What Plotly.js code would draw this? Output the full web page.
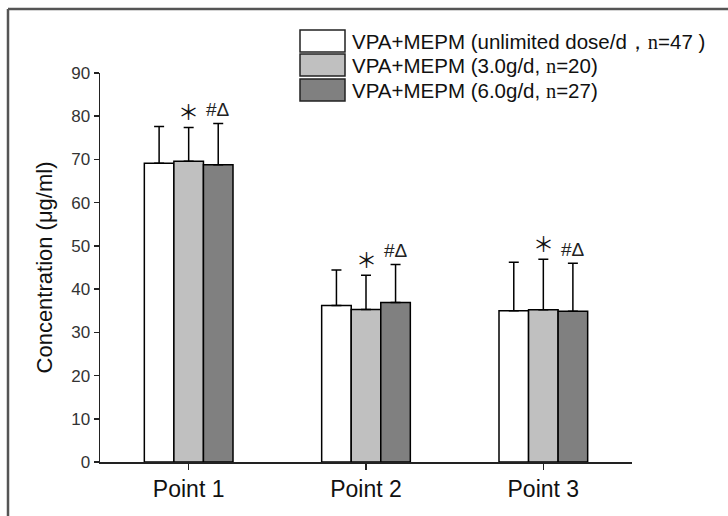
<!DOCTYPE html>
<html>
<head>
<meta charset="utf-8">
<script src="https://cdn.plot.ly/plotly-3.0.1.min.js"></script>
<style>html,body{margin:0;padding:0;background:#fff;}#chart{width:728px;height:516px;}</style>
</head>
<body>
<div id="chart"></div>
<script>
const categories = ['Point 1', 'Point 2', 'Point 3'];
const seriesNames = [
  'VPA+MEPM (unlimited dose/d，<span style="font-family:Liberation Serif">n</span>=47 )',
  'VPA+MEPM (3.0g/d, <span style="font-family:Liberation Serif">n</span>=20)',
  'VPA+MEPM (6.0g/d, <span style="font-family:Liberation Serif">n</span>=27)'
];
const unlimitedMean = [69.1, 36.2, 35.0];
const unlimitedSD = [8.5, 8.2, 11.2];
const lowMean = [69.6, 35.3, 35.2];
const lowSD = [7.8, 7.9, 11.7];
const highMean = [68.8, 36.9, 34.9];
const highSD = [9.5, 8.8, 11.1];
const colors = ['#ffffff', '#c0c0c0', '#808080'];
const lowMarks = ['＊', '＊', '＊'];
const highMarks = ['#Δ', '#Δ', '#Δ'];

const means = [unlimitedMean, lowMean, highMean];
const sds = [unlimitedSD, lowSD, highSD];

const traces = means.map((m, i) => ({
  type: 'bar',
  x: categories,
  y: m,
  name: seriesNames[i],
  marker: {color: colors[i], line: {color: '#000', width: 1.5}},
  error_y: {type: 'data', array: sds[i], arrayminus: sds[i].map(() => 0), symmetric: false, color: '#000', thickness: 1.5, width: 5},
  showlegend: false
}));

const W = 728, H = 516;
const margin = {l: 100, r: 96, t: 73, b: 54};
const pw = W - margin.l - margin.r, ph = H - margin.t - margin.b;
const px = v => (v - margin.l) / pw;
const py = v => (H - margin.b - v) / ph;

const annotations = [];
categories.forEach((c, k) => {
  annotations.push({x: k, y: lowMean[k] + lowSD[k], xref: 'x', yref: 'y', text: lowMarks[k], showarrow: false,
    yanchor: 'middle', yshift: 16, font: {family: 'Noto Sans CJK SC', size: 21, color: '#111'}});
  annotations.push({x: k + 1/6, y: highMean[k] + highSD[k], xref: 'x', yref: 'y', text: highMarks[k], showarrow: false,
    yanchor: 'middle', yshift: 14, font: {family: 'Liberation Sans, Arial', size: 19, color: '#222'}});
});

const shapes = [];
// outer frame (top and left edges)
shapes.push({type: 'line', xref: 'paper', yref: 'paper', x0: px(8), x1: px(728), y0: py(9), y1: py(9), line: {color: '#555', width: 2.5}});
shapes.push({type: 'line', xref: 'paper', yref: 'paper', x0: px(8), x1: px(8), y0: py(9), y1: py(516), line: {color: '#555', width: 2.5}});
// legend boxes
const boxTops = [30, 54, 79];
boxTops.forEach((t, i) => {
  shapes.push({type: 'rect', xref: 'paper', yref: 'paper', x0: px(300), x1: px(345), y0: py(t), y1: py(t + 22),
    fillcolor: colors[i], line: {color: '#222', width: 1.5}});
  annotations.push({xref: 'paper', yref: 'paper', x: px(350), y: py(t + 11), xanchor: 'left', yanchor: 'middle',
    text: seriesNames[i], showarrow: false, font: {family: 'Liberation Sans, Arial', size: 20.5, color: '#111'}});
});

const layout = {
  width: W, height: H,
  margin: margin,
  paper_bgcolor: '#fff', plot_bgcolor: '#fff',
  barmode: 'group', bargap: 0.5, bargroupgap: 0,
  font: {family: 'Liberation Sans, Arial', color: '#222'},
  xaxis: {
    type: 'category', range: [-0.5, 2.5], showline: true, linecolor: '#222', linewidth: 1.5,
    ticks: 'outside', ticklen: 6, tickcolor: '#222', tickwidth: 1.5, showgrid: false, zeroline: false,
    tickfont: {size: 23, color: '#111'}, fixedrange: true
  },
  yaxis: {
    range: [0, 90], dtick: 10, showline: true, linecolor: '#222', linewidth: 1.5,
    ticks: 'outside', ticklen: 5, tickcolor: '#222', tickwidth: 1.5, showgrid: false, zeroline: false,
    tickfont: {size: 17, color: '#333'},
    title: {text: 'Concentration (μg/ml)', font: {size: 22, color: '#111'}, standoff: 12}
  },
  shapes: shapes,
  annotations: annotations,
  showlegend: false
};

Plotly.newPlot('chart', traces, layout, {displayModeBar: false, staticPlot: true});
</script>
</body>
</html>
